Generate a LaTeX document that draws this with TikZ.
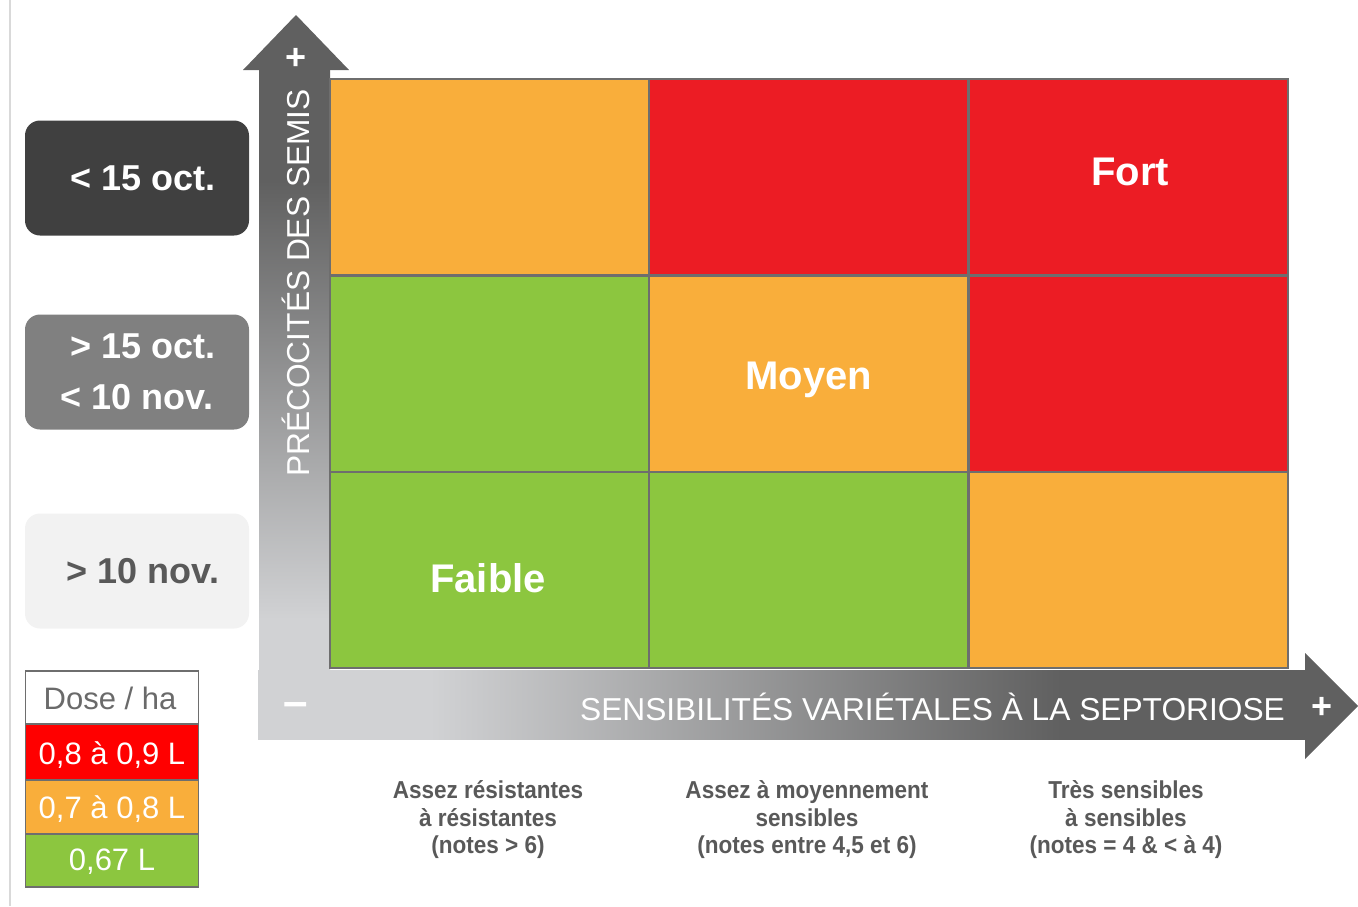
\documentclass[tikz,border=0pt]{standalone}
\usepackage{fontspec}
\setmainfont{Liberation Sans}
\newfontfamily\condfont[FakeStretch=0.92]{Liberation Sans}
\definecolor{cOrange}{HTML}{F9AE3B}
\definecolor{cRed}{HTML}{EC1C24}
\definecolor{cGreen}{HTML}{8CC63F}
\definecolor{lRed}{HTML}{FF0000}
\definecolor{gridgray}{HTML}{6E6E6E}
\definecolor{arrDark}{HTML}{606060}
\definecolor{arrLight}{HTML}{D1D2D4}
\definecolor{boxDark}{HTML}{404040}
\definecolor{boxMid}{HTML}{808080}
\definecolor{boxLight}{HTML}{F2F2F2}
\definecolor{txtGray}{HTML}{595959}
\definecolor{frameGray}{HTML}{D9D9D9}
\pgfdeclarehorizontalshading{hshaft}{100bp}{color(0bp)=(arrLight); color(33.2bp)=(arrLight); color(63.3bp)=(arrDark); color(100bp)=(arrDark)}
\pgfdeclareverticalshading{vshaft}{100bp}{color(0bp)=(arrLight); color(33.9bp)=(arrLight); color(66.7bp)=(arrDark); color(100bp)=(arrDark)}
\begin{document}
\begin{tikzpicture}[x=1pt,y=-1pt,
  cell/.style={draw=gridgray, line width=2, minimum width=319, minimum height=196, inner sep=0},
  celltext/.style={text=white, inner sep=0, font=\bfseries\fontsize{40}{48}\selectfont},
  datebox/.style={rounded corners=15, minimum width=224, minimum height=115, inner sep=0,
    align=center, font=\bfseries\fontsize{36}{51}\selectfont},
  legcell/.style={draw=gridgray, line width=1.5, minimum width=173, inner sep=0,
    font=\fontsize{31}{37}\selectfont, text=white},
  legtext/.style={inner sep=0, font=\fontsize{31}{37}\selectfont, text=white},
  axistext/.style={text=white, font=\fontsize{31.7}{37}\selectfont, inner sep=0},
  signtext/.style={text=white, font=\bfseries\fontsize{36}{40}\selectfont, inner sep=0},
  collabel/.style={text=txtGray, align=center, inner sep=0,
    font=\condfont\bfseries\fontsize{24.5}{27.5}\selectfont}
]
\useasboundingbox (0,0) rectangle (1358,906);
% frame line at left
\draw[frameGray, line width=2] (10,0) -- (10,906);

% horizontal arrow
\shade[shading=hshaft] (258,670) rectangle (1306,739);
\fill[arrDark] (1305,653) -- (1358,706) -- (1305,759) -- cycle;

% vertical arrow
\fill[arrDark] (243,70) -- (296,15) -- (349,70) -- cycle;
\shade[shading=vshaft] (259,69) rectangle (330,739);

% axis labels
\node[axistext, rotate=90] (ylab) at (296,283) {PRÉCOCITÉS DES SEMIS};
\node[signtext] (yplus) at (296,59) {+};
\node[axistext, anchor=east] (xlab) at (1285,707) {SENSIBILITÉS VARIÉTALES À LA SEPTORIOSE};
\node[signtext] (xplus) at (1322,708) {+};
\node[signtext, font=\bfseries\fontsize{44}{48}\selectfont] (xminus) at (296,709) {–};

% grid cells
\node[cell, fill=cOrange] (c11) at (489,177) {};
\node[cell, fill=cRed]    (c12) at (808,177) {};
\node[cell, fill=cRed]    (c13) at (1128,177) {};
\node[cell, fill=cGreen]  (c21) at (489,373.5) {};
\node[cell, fill=cOrange] (c22) at (808,373.5) {};
\node[cell, fill=cRed]    (c23) at (1128,373.5) {};
\node[cell, fill=cGreen]  (c31) at (489,570) {};
\node[cell, fill=cGreen]  (c32) at (808,570) {};
\node[cell, fill=cOrange] (c33) at (1128,570) {};
\node[celltext] (fort) at (1130,172) {Fort};
\node[celltext, anchor=base] (moyen) at (809,389) {Moyen};
\node[celltext] (faible) at (488,578) {Faible};

% date boxes
\node[datebox, fill=boxDark, text=white] (d1) at (137,178) {\,\,< 15 oct.};
\node[datebox, fill=boxMid, text=white] (d2) at (137,372) {\,\,> 15 oct.\\< 10 nov.};
\node[datebox, fill=boxLight, text=txtGray] (d3) at (137,571) {\,\,> 10 nov.};

% legend
\node[legcell, fill=white, minimum height=53] (l0) at (112,697.5) {};
\node[legcell, fill=lRed, minimum height=56] (l1) at (112,752) {};
\node[legcell, fill=cOrange, minimum height=54] (l2) at (112,807) {};
\node[legcell, fill=cGreen, minimum height=53] (l3) at (112,860.5) {};
\node[legtext, text=txtGray!90] (t0) at (110,698.5) {Dose / ha};
\node[legtext] (t1) at (112,755) {0,8 à 0,9 L};
\node[legtext] (t2) at (112,809) {0,7 à 0,8 L};
\node[legtext] (t3) at (112,862) {0,67 L};

% column labels
\node[collabel] (b1) at (488,820) {Assez résistantes\\à résistantes\\(notes > 6)};
\node[collabel] (b2) at (807,820) {Assez à moyennement\\sensibles\\(notes entre 4,5 et 6)};
\node[collabel] (b3) at (1126,820) {Très sensibles\\à sensibles\\(notes = 4 \& < à 4)};
\end{tikzpicture}
\end{document}
